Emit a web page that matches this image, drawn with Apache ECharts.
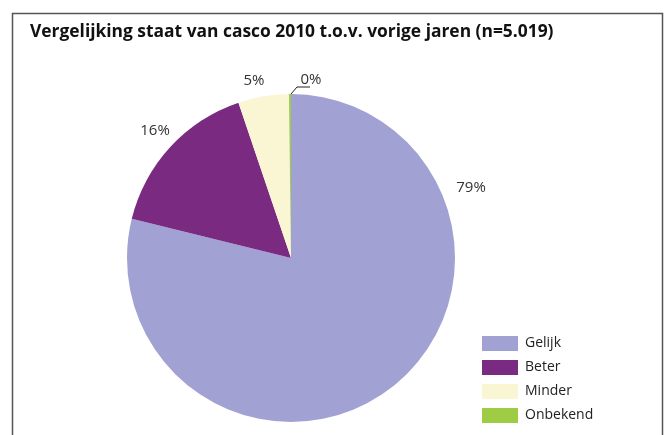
<!DOCTYPE html>
<html>
<head>
<meta charset="utf-8">
<script src="https://cdn.jsdelivr.net/npm/echarts@6/dist/echarts.min.js"></script>
<style>
  html, body { margin: 0; padding: 0; background: #fff; }
  #chart { width: 665px; height: 435px; }
</style>
</head>
<body>
<div id="chart"></div>
<script>
// data
const categories = ['Gelijk', 'Beter', 'Minder', 'Onbekend']
const values = [79, 16, 5, 0.2]
const colors = ['#A1A1D3', '#7B2A82', '#FAF6D3', '#9FCC45']

// plek van de percentage-labels zoals in het origineel
const labelSpots = [[471, 188], [155, 131], [254, 81], [311, 80]]

const chart = echarts.init(document.getElementById('chart'))

const pieData = categories.map((name, i) => ({
  name: name,
  value: values[i],
  itemStyle: { color: colors[i] },
  // alleen de kleine schijf krijgt een lijntje
  labelLine: { show: i === 3 }
}))

chart.setOption({
  animation: false,
  title: {
    text: 'Vergelijking staat van casco 2010 t.o.v. vorige jaren (n=5.019)',
    left: 25,
    top: 19,
    textStyle: {
      fontFamily: 'Open Sans',
      fontWeight: 'bold',
      fontSize: 17.4,
      color: '#111'
    }
  },
  graphic: [{
    type: 'rect',
    shape: { x: 12.5, y: 13.5, width: 650, height: 440 },
    style: { fill: null, stroke: '#555', lineWidth: 1.5 },
    silent: true
  }],
  legend: {
    orient: 'vertical',
    left: 477,
    top: 331,
    icon: 'rect',
    itemWidth: 36,
    itemHeight: 15,
    itemGap: 9,
    data: categories,
    textStyle: { fontFamily: 'Open Sans', fontSize: 14, color: '#222', padding: [0, 0, 0, 2] }
  },
  series: [{
    type: 'pie',
    center: [291, 258],
    radius: [0, 164],
    startAngle: 90,
    clockwise: true,
    avoidLabelOverlap: false,
    label: {
      show: true,
      position: 'outside',
      formatter: p => Math.round(p.percent) + '%',
      fontFamily: 'Open Sans',
      fontSize: 15,
      color: '#333'
    },
    labelLine: {
      show: false,
      lineStyle: { color: '#222', width: 1 }
    },
    labelLayout: function (p) {
      const s = labelSpots[p.dataIndex]
      const out = { x: s[0], y: s[1], align: 'center', verticalAlign: 'middle' }
      if (p.dataIndex === 3) {
        out.labelLinePoints = [[291, 94], [297, 87], [310, 87]]
      }
      return out
    },
    itemStyle: { borderWidth: 0 },
    data: pieData
  }]
})
</script>
</body>
</html>
